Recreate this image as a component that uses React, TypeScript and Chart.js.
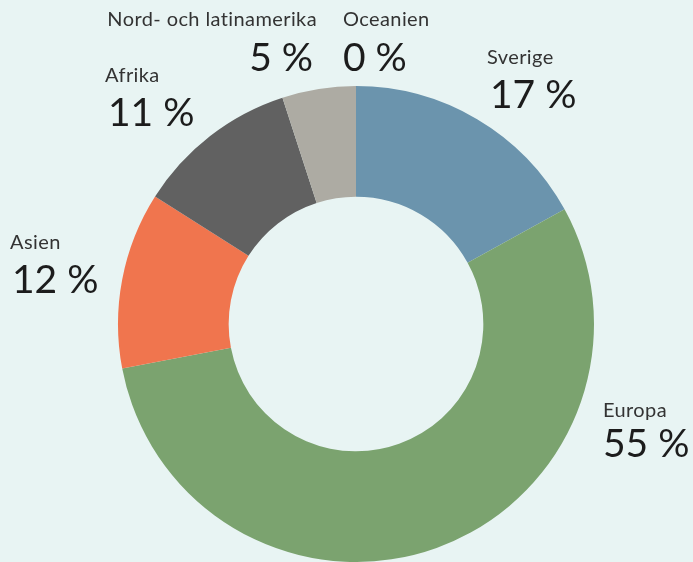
import React, { useEffect, useRef } from "react";
import { Chart, registerables } from "chart.js";

Chart.register(...registerables);

const categories = ["Sverige", "Europa", "Asien", "Afrika", "Nord- och latinamerika", "Oceanien"];
const values = [17, 55, 12, 11, 5, 0];
const colors = ["#6b94ad", "#7ba36f", "#f0754e", "#616161", "#adaba3", "#c9c9c9"];

// label anchors relative to the doughnut centre (px): name baseline, pct baseline, alignment
const labelLayout = [
  { x: 131, y: -260, align: "left" },   // Sverige
  { x: 247, y: 93, align: "left" },     // Europa
  { x: -346, y: -75, align: "left" },   // Asien
  { x: -251, y: -242, align: "left" },  // Afrika
  { x: -39, y: -298, align: "right" },  // Nord- och latinamerika
  { x: -13, y: -298, align: "left" },   // Oceanien
];
const pctOffsets = [[3, 44], [0, 40], [2, 44], [3, 44], [-4, 45], [0, 45]];

const FONT = "Lato, 'Open Sans', sans-serif";

const labelPlugin = {
  id: "outerLabels",
  afterDraw(chart: any) {
    const meta = chart.getDatasetMeta(0);
    const arc = meta.data[0];
    if (!arc) return;
    const cx = arc.x;
    const cy = arc.y;
    const ctx = chart.ctx;
    ctx.save();
    ctx.textBaseline = "alphabetic";
    categories.forEach((name, i) => {
      const l = labelLayout[i];
      const ax = cx + l.x;
      const ay = cy + l.y;
      ctx.textAlign = l.align;
      ctx.fillStyle = "#333333";
      ctx.font = `400 20px ${FONT}`;
      (ctx as any).letterSpacing = "0.4px";
      ctx.fillText(name, ax, ay);
      ctx.fillStyle = "#1c1c1c";
      ctx.font = `400 39px ${FONT}`;
      (ctx as any).letterSpacing = "0px";
      ctx.fillText(`${values[i]} %`, ax + pctOffsets[i][0], ay + pctOffsets[i][1]);
    });
    ctx.restore();
  },
};

export default function App() {
  const ref = useRef<HTMLCanvasElement | null>(null);
  useEffect(() => {
    if (!ref.current) return;
    const chart = new Chart(ref.current, {
      type: "doughnut",
      data: {
        labels: categories,
        datasets: [
          {
            data: values,
            backgroundColor: colors,
            borderWidth: 0,
          },
        ],
      },
      options: {
        responsive: false,
        animation: false,
        cutout: "53.5%",
        rotation: 0,
        layout: { padding: { left: 118, right: 99, top: 86, bottom: 0 } },
        plugins: {
          legend: { display: false },
          tooltip: { enabled: false },
        },
      },
      plugins: [labelPlugin],
    });
    return () => chart.destroy();
  }, []);
  return (
    <div style={{ position: "fixed", left: 0, top: 0, width: 693, height: 562, background: "#e8f4f3" }}>
      <canvas ref={ref} width={693} height={562} style={{ display: "block" }} />
    </div>
  );
}
